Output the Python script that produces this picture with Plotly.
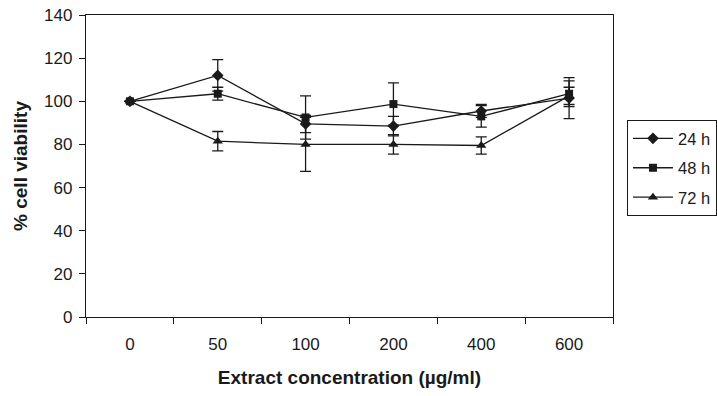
import plotly.graph_objects as go

# Extract concentrations (µg/ml), shown as evenly spaced categories
concentrations = ["0", "50", "100", "200", "400", "600"]

# Mean % cell viability for each exposure time
viability_24h = [100, 112, 89.5, 88.5, 95.5, 101.5]
viability_48h = [100, 103.5, 92.5, 98.7, 93, 103.5]
viability_72h = [100, 81.5, 80, 80, 79.5, 102.5]

# Standard deviations (none drawn for the untreated control)
sd_24h = [None, 7.3, 4, 4.5, 3, 9.5]
sd_48h = [None, 3, 10, 9.8, 5, 6]
sd_72h = [None, 4.5, 12.5, 4.5, 4, 4]

y_ticks = [0, 20, 40, 60, 80, 100, 120, 140]

FONT = "Liberation Sans, Arial, sans-serif"
INK = "#1a1a1a"

series = [
    ("24 h", viability_24h, sd_24h, "diamond", 9),
    ("48 h", viability_48h, sd_48h, "square", 8),
    ("72 h", viability_72h, sd_72h, "triangle-up", 9),
]

fig = go.Figure()
for i, (name, vals, sd, symbol, size) in enumerate(series):
    fig.add_trace(go.Scatter(
        x=concentrations,
        y=vals,
        name=name,
        mode="lines+markers",
        legendgroup=f"g{i}",
        line=dict(color=INK, width=1.3),
        marker=dict(symbol=symbol, size=size, color=INK),
        error_y=dict(type="data", array=sd, visible=True,
                     color=INK, thickness=1.3, width=5.5),
    ))

fig.update_layout(
    width=717,
    height=396,
    margin=dict(l=86, r=104, t=15, b=79, autoexpand=False),
    paper_bgcolor="white",
    plot_bgcolor="white",
    font=dict(family=FONT, size=17, color=INK),
    showlegend=True,
    legend=dict(
        x=1.0265, y=0.652, xanchor="left", yanchor="top",
        bordercolor=INK, borderwidth=1,
        font=dict(family=FONT, size=16.5, color=INK),
        tracegroupgap=5,
        traceorder="grouped",
        itemwidth=40,
    ),
    xaxis=dict(
        type="category",
        categoryorder="array",
        categoryarray=concentrations,
        range=[-0.5, 5.5],
        showline=True, linecolor=INK, linewidth=1.3, mirror=True,
        ticks="outside", tickson="boundaries", ticklen=6,
        tickcolor=INK, tickwidth=1,
        ticklabelstandoff=11,
        showgrid=False, zeroline=False,
        tickfont=dict(family=FONT, size=17, color=INK),
        title=dict(text="<b>Extract concentration (µg/ml)</b>",
                   font=dict(family=FONT, size=19, color=INK), standoff=18),
    ),
    yaxis=dict(
        range=[0, 140],
        tickvals=y_ticks,
        showline=True, linecolor=INK, linewidth=1.3, mirror=True,
        ticks="outside", ticklen=6, tickcolor=INK, tickwidth=1,
        ticklabelstandoff=3,
        showgrid=False, zeroline=False,
        tickfont=dict(family=FONT, size=17, color=INK),
        title=dict(text="<b>% cell viability</b>",
                   font=dict(family=FONT, size=19, color=INK), standoff=11),
    ),
)

fig.write_html("out.html")
